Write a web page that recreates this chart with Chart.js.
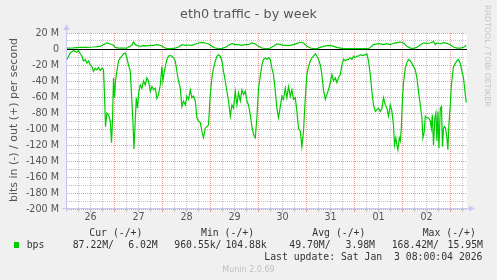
<!DOCTYPE html>
<html>
<head>
<meta charset="utf-8">
<title>eth0 traffic - by week</title>
<script src="https://cdn.jsdelivr.net/npm/chart.js@4/dist/chart.umd.min.js"></script>
<style>
  html, body { margin: 0; padding: 0; background: #f0f0f0; }
  #wrap { width: 497px; height: 280px; }
</style>
</head>
<body>
<div id="wrap"><canvas id="traffic" width="497" height="280"></canvas></div>
<script>
// hours since Fri 26 Dec 00:00, values in Mbit/s
var dayLabels = ['26', '27', '28', '29', '30', '31', '01', '02'];
var yTickValues = [20, 10, 0, -10, -20, -30, -40, -50, -60, -70, -80, -90, -100, -110, -120, -130, -140, -150, -160, -170, -180, -190, -200];

var inHours = [0.2, 1.9, 3.5, 4.4, 5.2, 6.0, 6.9, 7.7, 8.5, 9.4, 10.2, 11.0, 11.9, 12.7, 13.5, 14.4, 15.2, 16.0, 16.9, 17.7,
  18.5, 19.0, 19.5, 20.2, 21.0, 21.9, 22.5, 23.0, 23.5, 24.0, 24.5, 25.2, 26.0, 26.9, 27.7, 28.5, 29.4, 30.2, 31.0, 31.9,
  32.5, 33.2, 33.7, 34.2, 34.9, 35.5, 36.2, 36.9, 37.7, 38.5, 39.4, 40.2, 41.0, 41.9, 42.7, 43.5, 44.4, 45.2, 46.0, 46.9,
  47.7, 48.2, 48.9, 49.4, 50.2, 51.0, 51.9, 52.7, 53.5, 54.4, 55.2, 56.0, 56.9, 57.7, 58.5, 59.4, 60.2, 61.0, 61.9, 62.7,
  63.5, 64.4, 65.2, 66.0, 66.9, 67.7, 68.5, 69.4, 70.2, 71.0, 71.9, 72.7, 73.5, 74.4, 75.2, 76.0, 76.9, 77.7, 78.5, 79.4,
  80.2, 81.0, 81.9, 82.7, 83.5, 84.4, 85.2, 86.0, 86.9, 87.7, 88.5, 89.4, 90.2, 91.0, 91.9, 92.7, 93.5, 94.4, 95.2, 96.0,
  96.9, 97.7, 98.5, 99.4, 100.2, 101.0, 101.9, 102.7, 103.5, 104.4, 105.2, 106.0, 106.9, 107.7, 108.5, 109.4, 110.2, 111.0, 111.9, 112.7,
  113.5, 114.4, 115.2, 116.0, 116.9, 117.7, 118.5, 119.4, 120.2, 121.0, 121.9, 122.7, 123.5, 124.4, 125.2, 126.0, 126.9, 127.7, 128.5, 129.4,
  130.2, 131.0, 131.9, 132.7, 133.5, 134.4, 135.2, 136.0, 136.9, 137.7, 138.5, 139.4, 140.2, 141.0, 141.9, 142.7, 143.5, 144.4, 145.2, 146.0,
  146.9, 147.7, 148.5, 149.4, 150.2, 151.0, 151.9, 152.7, 153.5, 154.4, 155.2, 156.0, 156.9, 157.7, 158.5, 159.4, 160.2, 161.0, 161.9, 162.7,
  163.5, 164.0, 164.7, 165.2, 165.7, 166.4, 166.9, 167.4, 168.0, 168.5, 169.4, 170.2, 171.0, 171.9, 172.7, 173.5, 174.4, 175.2, 176.0, 176.9,
  177.7, 178.2, 178.9, 179.4, 180.2, 181.0, 181.9, 182.4, 182.9, 183.5, 184.2, 184.7, 185.2, 185.7, 186.2, 186.9, 187.5, 188.0, 188.5, 189.0,
  189.5, 190.2, 190.7, 191.2, 191.9, 192.4, 193.0, 193.5, 194.4, 195.2, 196.0, 196.9, 197.7, 198.5, 199.4, 199.9];
var inValues = [-13, -5, -2, -3, -4, -2, -6, -9, -15, -13, -17.5, -15, -20, -22, -28, -24, -26, -23, -27, -24,
  -26, -57, -97, -80, -82, -90, -117, -90, -36, -61, -40, -28, -15, -11, -9, -6, -5, -11, -20, -28,
  -57, -90, -125, -99, -61, -74, -53, -45, -49, -40, -45, -36, -40, -53, -47, -51, -49, -62, -57, -45,
  -22, -40, -28, -22, -13, -9, -8, -9, -11, -15, -28, -40, -49, -72, -65, -70, -59, -63, -51, -61,
  -59, -65, -86, -90, -92, -103, -111, -99, -97, -95, -57, -36, -24, -15, -9, -7, -9, -15, -28, -40,
  -53, -65, -84, -70, -74, -53, -70, -55, -65, -51, -57, -53, -65, -70, -82, -97, -107, -111, -86, -49,
  -34, -20, -13, -11, -13, -11, -13, -24, -32, -53, -74, -86, -72, -59, -63, -49, -61, -47, -59, -51,
  -63, -61, -78, -99, -103, -122, -103, -61, -32, -22, -15, -11, -9, -6, -9, -13, -20, -32, -51, -63,
  -57, -51, -42, -32, -40, -36, -42, -36, -32, -20, -13, -15, -13, -13, -11, -13, -9, -11, -9, -9,
  -7, -8, -8, -7, -6, -15, -32, -53, -70, -78, -76, -74, -78, -74, -61, -70, -74, -84, -70, -78,
  -95, -120, -111, -120, -126, -111, -115, -99, -61, -42, -24, -17, -13, -15, -18, -22, -26, -36, -53, -70,
  -86, -111, -103, -84, -86, -86, -90, -99, -82, -120, -86, -80, -115, -78, -124, -74, -72, -122, -99, -97,
  -99, -111, -126, -95, -70, -47, -32, -22, -18, -15, -13, -18, -28, -36, -57, -67];

var outHours = [0.2, 3.5, 6.9, 10.2, 13.5, 16.9, 18.5, 20.2, 21.9, 23.5, 24.4, 26.0, 28.5, 30.2, 31.0, 32.7, 33.5, 34.4, 35.2, 36.9,
  38.5, 40.2, 41.9, 43.5, 45.2, 46.9, 48.5, 50.2, 51.9, 54.4, 56.0, 57.7, 59.4, 61.0, 62.7, 64.4, 66.0, 67.7, 69.4, 71.0,
  72.7, 74.4, 76.0, 77.7, 79.4, 81.0, 82.7, 84.4, 86.0, 87.7, 89.4, 91.0, 92.7, 94.4, 96.0, 97.7, 99.4, 101.0, 101.9, 103.5,
  105.2, 106.9, 108.5, 110.2, 111.9, 113.5, 115.2, 116.9, 118.5, 120.2, 121.9, 123.5, 125.2, 126.9, 128.5, 130.2, 131.9, 133.5, 135.2, 136.9,
  138.5, 141.9, 145.2, 148.5, 151.0, 151.9, 153.5, 155.2, 156.9, 158.5, 160.2, 161.9, 163.5, 165.2, 166.9, 168.5, 170.2, 171.9, 173.5, 175.2,
  176.9, 178.5, 180.2, 181.9, 183.5, 184.4, 185.2, 186.9, 188.5, 190.2, 191.9, 193.5, 195.2, 196.9, 198.5, 199.9];
var outValues = [1.2, 1.5, 2, 2, 2.5, 3.3, 5.4, 7.5, 6.3, 4.6, 2, 1, 1, 1, 2.5, 4.6, 8.7, 5.4, 4.6, 3.3,
  4.2, 3.8, 4.6, 4.6, 5.4, 4.6, 2.5, 0.4, 0.4, 1.2, 2.5, 5.4, 4.6, 5, 4.6, 6.3, 7.5, 8.3, 7.5, 6.3,
  3.3, 1.2, 0.4, 0.8, 2, 4.6, 6.7, 5.4, 5.4, 4.6, 5.4, 5.4, 7.5, 6.3, 3.3, 1.2, 0.4, 0.4, 1.2, 3.3,
  6.3, 5.4, 4.6, 4.6, 4.6, 5.4, 7.1, 8.7, 7.5, 3.3, 1.2, 0.4, 0.4, 2, 3.3, 4.2, 4.6, 3.3, 2, 1.2,
  0.4, 0.6, 0.4, 0.4, 0.4, 2, 5.4, 6.3, 6.3, 5.4, 6.7, 5.4, 7.1, 7.9, 8.7, 7.5, 3.3, 1.2, 0.8, 2,
  5.4, 7.5, 7.1, 7.5, 9.6, 5.4, 7.5, 6.3, 7.9, 7.1, 5.4, 2.5, 1.2, 1.2, 2, 4.6];

var legendHeads = ['Cur (-/+)', 'Min (-/+)', 'Avg (-/+)', 'Max (-/+)'];
var legendIn = ['87.22M/', '960.55k/', '49.70M/', '168.42M/'];
var legendOut = ['6.02M', '104.88k', '3.98M', '15.95M'];

var GREEN = '#00cc00';
var RED_GRID = 'rgba(240,120,120,0.75)';
var GRAY_GRID = 'rgba(190,190,190,0.9)';
var AXIS = '#c8c8f4';

function points(hours, values) {
  return hours.map(function (h, i) { return { x: h, y: values[i] }; });
}

var muninPlugin = {
  id: 'munin',
  beforeDraw: function (chart) {
    var ctx = chart.ctx, a = chart.chartArea;
    ctx.save();
    ctx.fillStyle = '#f0f0f0';
    ctx.fillRect(0, 0, chart.width, chart.height);
    ctx.fillStyle = '#ffffff';
    ctx.fillRect(a.left, a.top, a.right - a.left, a.bottom - a.top);
    ctx.restore();
  },
  beforeDatasetsDraw: function (chart) {
    var ctx = chart.ctx, a = chart.chartArea;
    var y0 = Math.round(chart.scales.y.getPixelForValue(0)) + 0.5;
    ctx.save();
    ctx.strokeStyle = '#000';
    ctx.lineWidth = 1;
    ctx.beginPath();
    ctx.moveTo(a.left, y0);
    ctx.lineTo(a.right, y0);
    ctx.stroke();
    ctx.restore();
  },
  afterDraw: function (chart) {
    var ctx = chart.ctx, a = chart.chartArea;
    var ax = a.left - 0.5, ay = a.bottom - 0.5;
    ctx.save();
    // axes with arrow heads
    ctx.strokeStyle = AXIS;
    ctx.fillStyle = AXIS;
    ctx.lineWidth = 1;
    ctx.beginPath();
    ctx.moveTo(ax, ay + 3); ctx.lineTo(ax, a.top - 4);
    ctx.moveTo(ax - 4, ay); ctx.lineTo(a.right + 3, ay);
    ctx.stroke();
    ctx.beginPath();
    ctx.moveTo(ax - 3, a.top - 3); ctx.lineTo(ax + 3, a.top - 3); ctx.lineTo(ax, a.top - 9); ctx.closePath();
    ctx.fill();
    ctx.beginPath();
    ctx.moveTo(a.right + 2, ay - 3); ctx.lineTo(a.right + 2, ay + 3); ctx.lineTo(a.right + 8, ay); ctx.closePath();
    ctx.fill();

    // title
    ctx.fillStyle = '#555';
    ctx.textAlign = 'center';
    ctx.textBaseline = 'alphabetic';
    ctx.font = '12.8px "DejaVu Sans"';
    ctx.fillText('eth0 traffic - by week', 248.5, 18);

    // vertical axis title
    ctx.save();
    ctx.translate(14.5, 120);
    ctx.rotate(-Math.PI / 2);
    ctx.font = '11px "DejaVu Sans"';
    ctx.textBaseline = 'middle';
    ctx.fillText('bits in (-) / out (+) per second', 0, 0);
    ctx.restore();

    // rrdtool credit on the right
    ctx.save();
    ctx.translate(487.5, 5);
    ctx.rotate(Math.PI / 2);
    ctx.font = '7.9px "DejaVu Sans"';
    ctx.fillStyle = '#c4c4c4';
    ctx.textAlign = 'left';
    ctx.textBaseline = 'middle';
    ctx.fillText('RRDTOOL / TOBI OETIKER', 0, 0);
    ctx.restore();

    // legend
    ctx.font = '9.8px "DejaVu Sans Mono"';
    ctx.fillStyle = '#333';
    ctx.textAlign = 'left';
    var headX = [89.3, 201, 312.3, 422.7];
    legendHeads.forEach(function (t, i) { ctx.fillText(t, headX[i], 235.5); });
    var inX = [72.7, 174.3, 289.3, 391.7];
    var outX = [157.7, 266.7, 375, 483];
    legendIn.forEach(function (t, i) { ctx.fillText(t, inX[i], 248.3); });
    ctx.textAlign = 'right';
    legendOut.forEach(function (t, i) { ctx.fillText(t, outX[i], 248.3); });
    ctx.fillText('Last update: Sat Jan  3 08:00:04 2026', 482.5, 260.3);
    ctx.textAlign = 'left';
    ctx.fillText('bps', 26.7, 248.3);
    ctx.fillStyle = GREEN;
    ctx.fillRect(14, 242, 5, 6);

    ctx.font = '8px "DejaVu Sans"';
    ctx.fillStyle = '#c0c0c0';
    ctx.textAlign = 'center';
    ctx.fillText('Munin 2.0.69', 248.5, 272);
    ctx.restore();
  }
};

var chart = new Chart(document.getElementById('traffic'), {
  type: 'line',
  data: {
    datasets: [
      { label: 'in', data: points(inHours, inValues), borderColor: GREEN, borderWidth: 1.2, pointRadius: 0, fill: false, tension: 0 },
      { label: 'out', data: points(outHours, outValues), borderColor: GREEN, borderWidth: 1.2, pointRadius: 0, fill: false, tension: 0 }
    ]
  },
  options: {
    responsive: false,
    animation: false,
    devicePixelRatio: 1,
    layout: { padding: { left: 0, right: 30, top: 33, bottom: 51 } },
    plugins: { legend: { display: false }, tooltip: { enabled: false }, title: { display: false } },
    scales: {
      x: {
        type: 'linear',
        min: 0.25,
        max: 200.25,
        afterFit: function (s) { s.height = 20; },
        afterBuildTicks: function (s) {
          var t = [];
          for (var h = 6; h <= 198; h += 6) t.push({ value: h });
          s.ticks = t;
        },
        border: { display: false, dash: [1, 1] },
        grid: {
          lineWidth: 1,
          tickLength: 3,
          color: function (c) { return c.tick && c.tick.value % 24 === 0 ? RED_GRID : GRAY_GRID; }
        },
        ticks: {
          autoSkip: false,
          maxRotation: 0,
          padding: 0,
          color: '#555',
          font: { family: 'DejaVu Sans', size: 9.6 },
          callback: function (v) { return v % 24 === 12 ? dayLabels[(v - 12) / 24] : ''; }
        }
      },
      y: {
        min: -200,
        max: 20,
        afterFit: function (s) { s.width = 67; },
        afterBuildTicks: function (s) {
          s.ticks = yTickValues.map(function (v) { return { value: v }; });
        },
        border: { display: false, dash: [1, 1] },
        grid: {
          lineWidth: 1,
          drawTicks: false,
          color: function (c) { return c.tick && c.tick.value % 20 === 0 ? RED_GRID : GRAY_GRID; }
        },
        ticks: {
          autoSkip: false,
          padding: 8,
          color: '#555',
          font: { family: 'DejaVu Sans', size: 9.6 },
          callback: function (v) {
            if (v % 20 !== 0) return '';
            return v === 0 ? '0' : v + ' M';
          }
        }
      }
    }
  },
  plugins: [muninPlugin]
});
</script>
</body>
</html>
